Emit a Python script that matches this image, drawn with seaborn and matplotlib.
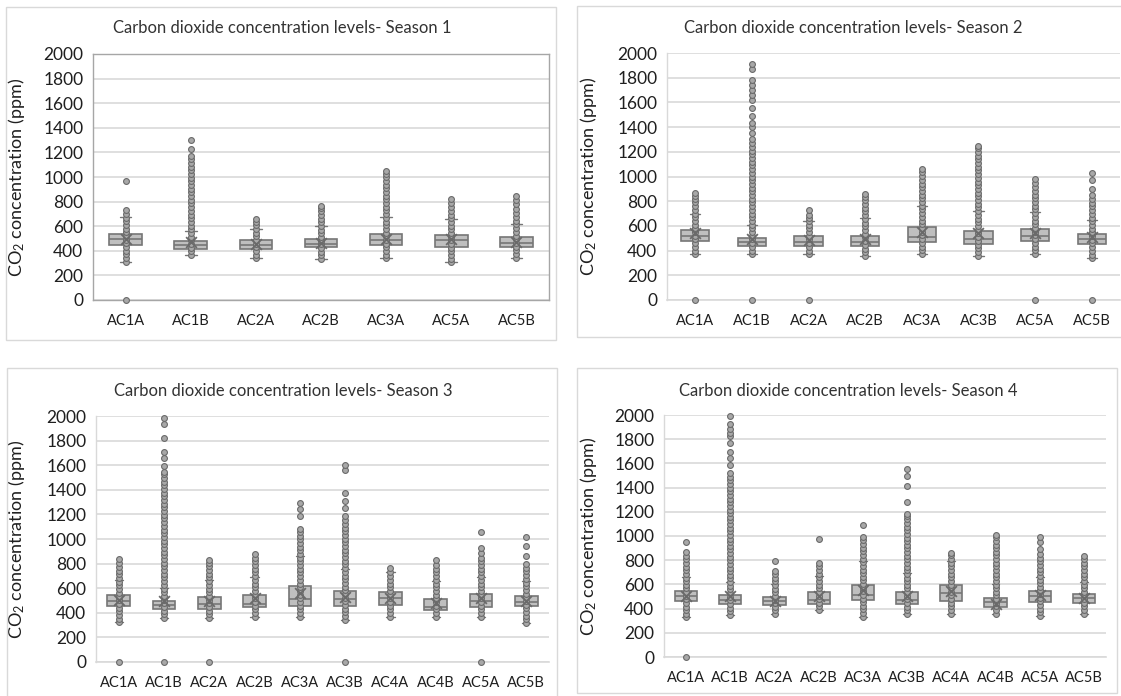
import numpy as np
import pandas as pd
import matplotlib
matplotlib.use("Agg")
import matplotlib.pyplot as plt
import seaborn as sns
from matplotlib.patches import Rectangle

# ---------------- data ----------------
s1_cats = ["AC1A", "AC1B", "AC2A", "AC2B", "AC3A", "AC5A", "AC5B"]
s1_q1 = [446, 414, 414, 427, 446, 432, 428]
s1_med = [495, 446, 446, 459, 486, 486, 466]
s1_q3 = [540, 481, 486, 500, 540, 527, 510]
s1_mean = [500, 473, 459, 462, 500, 500, 475]
s1_wlo = [310, 365, 338, 332, 338, 305, 344]
s1_whi = [676, 562, 576, 600, 676, 662, 618]
s1_points = [
    [0, 310, 340, 370, 400, 430, 460, 490, 520, 550, 580, 610, 640, 670, 700, 730, 968],
    [365, 395, 425, 455, 485, 515, 545, 575, 605, 635, 665, 695, 725, 755, 785, 815, 845, 875, 905, 935,
     965, 995, 1025, 1055, 1085, 1115, 1145, 1170, 1224, 1297],
    [338, 368, 398, 428, 458, 488, 518, 548, 578, 608, 632, 657],
    [332, 362, 392, 422, 452, 482, 512, 542, 572, 602, 632, 662, 692, 722, 745, 765],
    [338, 368, 398, 428, 458, 488, 518, 548, 578, 608, 638, 668, 698, 728, 758, 788, 818, 848, 878, 908,
     938, 968, 998, 1022, 1046],
    [305, 335, 365, 395, 425, 455, 485, 515, 545, 575, 605, 635, 665, 695, 725, 755, 785, 819],
    [344, 374, 404, 434, 464, 494, 524, 554, 584, 614, 644, 674, 704, 737, 780, 815, 845],
]

s2_cats = ["AC1A", "AC1B", "AC2A", "AC2B", "AC3A", "AC3B", "AC5A", "AC5B"]
s2_q1 = [478, 435, 435, 435, 473, 451, 481, 451]
s2_med = [522, 468, 470, 470, 514, 495, 522, 495]
s2_q3 = [568, 503, 519, 519, 595, 562, 576, 535]
s2_mean = [540, 495, 486, 497, 554, 546, 540, 514]
s2_wlo = [370, 370, 370, 357, 373, 359, 373, 338]
s2_whi = [695, 605, 643, 662, 765, 724, 711, 649]
s2_points = [
    [0, 370, 400, 430, 460, 490, 520, 550, 580, 610, 640, 670, 700, 730, 760, 790, 820, 845, 870],
    [0, 370, 400, 430, 460, 490, 520, 550, 580, 610, 640, 670, 700, 730, 760, 790, 820, 850, 880, 910,
     940, 970, 1000, 1030, 1060, 1090, 1120, 1150, 1180, 1210, 1240, 1270, 1300, 1351, 1400, 1432,
     1492, 1554, 1622, 1662, 1702, 1742, 1784, 1873, 1914],
    [0, 370, 400, 430, 460, 490, 520, 550, 580, 610, 640, 665, 690, 730],
    [357, 387, 417, 447, 477, 507, 537, 567, 597, 627, 657, 687, 717, 747, 777, 807, 833, 859],
    [373, 403, 433, 463, 493, 523, 553, 583, 613, 643, 673, 703, 733, 763, 793, 823, 853, 883, 913,
     943, 973, 1003, 1033, 1059],
    [359, 389, 419, 449, 479, 509, 539, 569, 599, 629, 659, 689, 719, 749, 779, 809, 839, 869, 899,
     929, 959, 989, 1019, 1049, 1079, 1109, 1139, 1169, 1199, 1229, 1249],
    [0, 373, 403, 433, 463, 493, 523, 553, 583, 613, 643, 673, 703, 733, 763, 793, 823, 853, 883,
     913, 951, 981],
    [0, 338, 368, 398, 428, 458, 488, 518, 548, 578, 608, 638, 668, 698, 728, 758, 788, 818, 849,
     900, 968, 1027],
]

s3_cats = ["AC1A", "AC1B", "AC2A", "AC2B", "AC3A", "AC3B", "AC4A", "AC4B", "AC5A", "AC5B"]
s3_q1 = [454, 432, 432, 446, 457, 457, 465, 419, 451, 453]
s3_med = [497, 465, 473, 473, 514, 511, 524, 451, 492, 491]
s3_q3 = [541, 500, 530, 541, 619, 578, 573, 514, 551, 537]
s3_mean = [505, 492, 492, 519, 559, 532, 519, 478, 519, 500]
s3_wlo = [322, 357, 357, 368, 368, 343, 368, 368, 368, 316]
s3_whi = [670, 600, 665, 695, 860, 760, 735, 655, 695, 660]
s3_points = [
    [0, 322, 352, 382, 412, 442, 472, 502, 532, 562, 592, 622, 652, 682, 712, 742, 772, 802, 835],
    [0, 357, 387, 417, 447, 477, 507, 537, 567, 597, 627, 657, 687, 717, 747, 777, 807, 837, 867, 897,
     927, 957, 987, 1017, 1047, 1077, 1107, 1137, 1167, 1197, 1227, 1257, 1287, 1317, 1347, 1377,
     1407, 1437, 1467, 1497, 1527, 1546, 1592, 1659, 1708, 1822, 1938, 1984],
    [0, 357, 387, 417, 447, 477, 507, 537, 567, 597, 627, 657, 687, 717, 747, 777, 807, 830],
    [368, 398, 428, 458, 488, 518, 548, 578, 608, 638, 668, 698, 728, 758, 788, 818, 848, 878],
    [368, 398, 428, 458, 488, 518, 548, 578, 608, 638, 668, 698, 728, 758, 788, 818, 848, 878, 908,
     938, 968, 998, 1028, 1058, 1081, 1186, 1241, 1295],
    [0, 343, 373, 403, 433, 463, 493, 523, 553, 583, 613, 643, 673, 703, 733, 763, 793, 823, 853, 883,
     913, 943, 973, 1003, 1033, 1063, 1093, 1123, 1153, 1183, 1249, 1311, 1370, 1565, 1600],
    [368, 398, 428, 458, 488, 518, 548, 578, 608, 638, 668, 698, 728, 762],
    [368, 398, 428, 458, 488, 518, 548, 578, 608, 638, 668, 698, 728, 758, 788, 830],
    [0, 368, 398, 428, 458, 488, 518, 548, 578, 608, 638, 668, 698, 728, 758, 788, 818, 848, 884,
     924, 1057],
    [316, 346, 376, 406, 436, 466, 496, 526, 556, 586, 616, 646, 676, 706, 736, 766, 793, 860, 940, 1018],
]

s4_cats = ["AC1A", "AC1B", "AC2A", "AC2B", "AC3A", "AC3B", "AC4A", "AC4B", "AC5A", "AC5B"]
s4_q1 = [459, 437, 426, 437, 468, 436, 464, 414, 458, 450]
s4_med = [501, 473, 459, 473, 514, 472, 532, 453, 505, 486]
s4_q3 = [542, 509, 498, 534, 597, 540, 595, 491, 546, 518]
s4_mean = [506, 501, 465, 501, 556, 507, 549, 440, 513, 491]
s4_wlo = [327, 349, 355, 388, 333, 357, 359, 359, 340, 359]
s4_whi = [665, 616, 605, 666, 790, 695, 790, 605, 664, 620]
s4_points = [
    [0, 327, 357, 387, 417, 447, 477, 507, 537, 567, 597, 627, 657, 687, 717, 747, 777, 807, 837, 867,
     949],
    [349, 379, 409, 439, 469, 499, 529, 559, 589, 619, 649, 679, 709, 739, 769, 799, 829, 859, 889,
     919, 949, 979, 1009, 1039, 1069, 1099, 1129, 1159, 1189, 1219, 1249, 1279, 1309, 1339, 1369,
     1399, 1429, 1459, 1489, 1519, 1587, 1642, 1697, 1766, 1827, 1849, 1884, 1923, 1992],
    [355, 385, 415, 445, 475, 505, 535, 565, 595, 625, 655, 685, 712, 790],
    [388, 418, 448, 478, 508, 538, 568, 598, 628, 658, 688, 718, 748, 778, 974],
    [333, 363, 393, 423, 453, 483, 513, 543, 573, 603, 633, 663, 693, 723, 753, 783, 813, 843, 873,
     903, 933, 963, 993, 1087],
    [357, 387, 417, 447, 477, 507, 537, 567, 597, 627, 657, 687, 717, 747, 777, 807, 837, 867, 897,
     927, 957, 987, 1017, 1047, 1077, 1107, 1137, 1167, 1185, 1278, 1410, 1495, 1550],
    [359, 389, 419, 449, 479, 509, 539, 569, 599, 629, 659, 689, 719, 749, 779, 809, 839, 859],
    [359, 389, 419, 449, 479, 509, 539, 569, 599, 629, 659, 689, 719, 749, 779, 809, 839, 869, 899,
     929, 959, 989, 1007],
    [340, 370, 400, 430, 460, 490, 520, 550, 580, 610, 640, 670, 700, 730, 760, 790, 820, 850, 892,
     952, 988],
    [359, 389, 419, 449, 479, 509, 539, 569, 599, 629, 659, 689, 719, 749, 779, 809, 837],
]

y_ticks = [0, 200, 400, 600, 800, 1000, 1200, 1400, 1600, 1800, 2000]
titles = ["Carbon dioxide concentration levels- Season 1",
          "Carbon dioxide concentration levels- Season 2",
          "Carbon dioxide concentration levels- Season 3",
          "Carbon dioxide concentration levels- Season 4"]
y_label = "CO$_2$ concentration (ppm)"

# ---------------- style ----------------
sns.set_theme(style="white")
plt.rcParams["font.family"] = ["Lato", "DejaVu Sans"]
plt.rcParams["mathtext.fontset"] = "custom"
plt.rcParams["mathtext.rm"] = "Lato"
plt.rcParams["mathtext.it"] = "Lato"
plt.rcParams["mathtext.default"] = "regular"

W, H = 1121, 696
fig = plt.figure(figsize=(W / 100, H / 100), dpi=100)
fig.patch.set_facecolor("white")

BOX_FILL = "#BFBFBF"
BOX_EDGE = "#767676"
DOT_FILL = "#A8A8A8"
DOT_EDGE = "#6A6A6A"
GRID = "#D9D9D9"
TXT = "#1F1F1F"

# panel frames (pixels: left, top, right, bottom)
frames = [(6, 7, 556, 340), (577, 6, 1125, 337), (7, 368, 557, 700), (577, 368, 1117, 693)]
for (l, t, r, b) in frames:
    fig.patches.append(Rectangle((l / W, 1 - b / H), (r - l) / W, (b - t) / H,
                                 transform=fig.transFigure, fill=False,
                                 edgecolor="#D9D9D9", linewidth=1.0))

# axes rectangles (pixels: left, top, right, bottom)
ax_px = [(93, 54, 549, 300), (667, 53, 1120, 300), (96, 416, 549, 662), (664, 415, 1106, 657)]
title_px = [(282, 28), (853, 28), (283, 391), (848, 391)]
ylabel_x = [27, 599, 27, 599]

seasons = [
    (s1_cats, s1_q1, s1_med, s1_q3, s1_mean, s1_wlo, s1_whi, s1_points),
    (s2_cats, s2_q1, s2_med, s2_q3, s2_mean, s2_wlo, s2_whi, s2_points),
    (s3_cats, s3_q1, s3_med, s3_q3, s3_mean, s3_wlo, s3_whi, s3_points),
    (s4_cats, s4_q1, s4_med, s4_q3, s4_mean, s4_wlo, s4_whi, s4_points),
]

for i, (cats, q1, med, q3, mean, wlo, whi, pts) in enumerate(seasons):
    l, t, r, b = ax_px[i]
    ax = fig.add_axes([l / W, 1 - b / H, (r - l) / W, (b - t) / H])
    n = len(cats)

    # long-form data for the inner points
    df = pd.DataFrame({"cat": [c for c, p in zip(cats, pts) for _ in p],
                       "ppm": [v for p in pts for v in p]})

    stats = [dict(med=med[k], q1=q1[k], q3=q3[k], whislo=wlo[k], whishi=whi[k],
                  mean=mean[k], fliers=[], label=cats[k]) for k in range(n)]
    ax.bxp(stats, positions=np.arange(n), widths=0.5, patch_artist=True,
           showfliers=False, showmeans=False, capwidths=0.18,
           boxprops=dict(facecolor=BOX_FILL, edgecolor=BOX_EDGE, linewidth=1.2),
           medianprops=dict(color=BOX_EDGE, linewidth=1.2),
           whiskerprops=dict(color=BOX_EDGE, linewidth=1.0),
           capprops=dict(color=BOX_EDGE, linewidth=1.0), manage_ticks=False,
           zorder=2)

    sns.stripplot(data=df, x="cat", y="ppm", order=cats, jitter=False, size=4.2,
                  color=DOT_FILL, edgecolor=DOT_EDGE, linewidth=0.8, ax=ax, zorder=3)
    for coll in ax.collections:
        coll.set_clip_on(False)

    ax.scatter(np.arange(n), mean, marker="x", s=60, color="#6A6A6A",
               linewidths=1.3, zorder=4)

    ax.set_xlim(-0.5, n - 0.5)
    ax.set_ylim(0, 2000)
    ax.set_yticks(y_ticks)
    ax.set_yticklabels([str(v) for v in y_ticks])
    ax.set_xticks(np.arange(n))
    ax.set_xticklabels(cats)
    ax.set_xlabel("")
    ax.set_ylabel(y_label, fontsize=13, color=TXT)
    ax.yaxis.set_label_coords((ylabel_x[i] - l) / (r - l), 0.5)
    ax.tick_params(axis="y", length=0, pad=7, labelsize=12.5, labelcolor=TXT)
    ax.tick_params(axis="x", length=0, pad=10, labelsize=10.5, labelcolor=TXT)
    ax.grid(axis="y", color=GRID, linewidth=1.2, zorder=0)
    ax.set_axisbelow(True)
    ax.set_facecolor("white")

    if i == 0:
        for s in ax.spines.values():
            s.set_visible(True)
            s.set_color("#A6A6A6")
            s.set_linewidth(1.0)
    else:
        ax.spines["top"].set_visible(False)
        ax.spines["right"].set_visible(False)
        ax.spines["left"].set_color(GRID)
        ax.spines["bottom"].set_color(GRID)
        ax.spines["left"].set_linewidth(1.0)
        ax.spines["bottom"].set_linewidth(1.2)

    tx, ty = title_px[i]
    fig.text(tx / W, 1 - ty / H, titles[i], ha="center", va="center",
             fontsize=12, color="#333333")

fig.savefig("out.png", dpi=100, facecolor="white")
